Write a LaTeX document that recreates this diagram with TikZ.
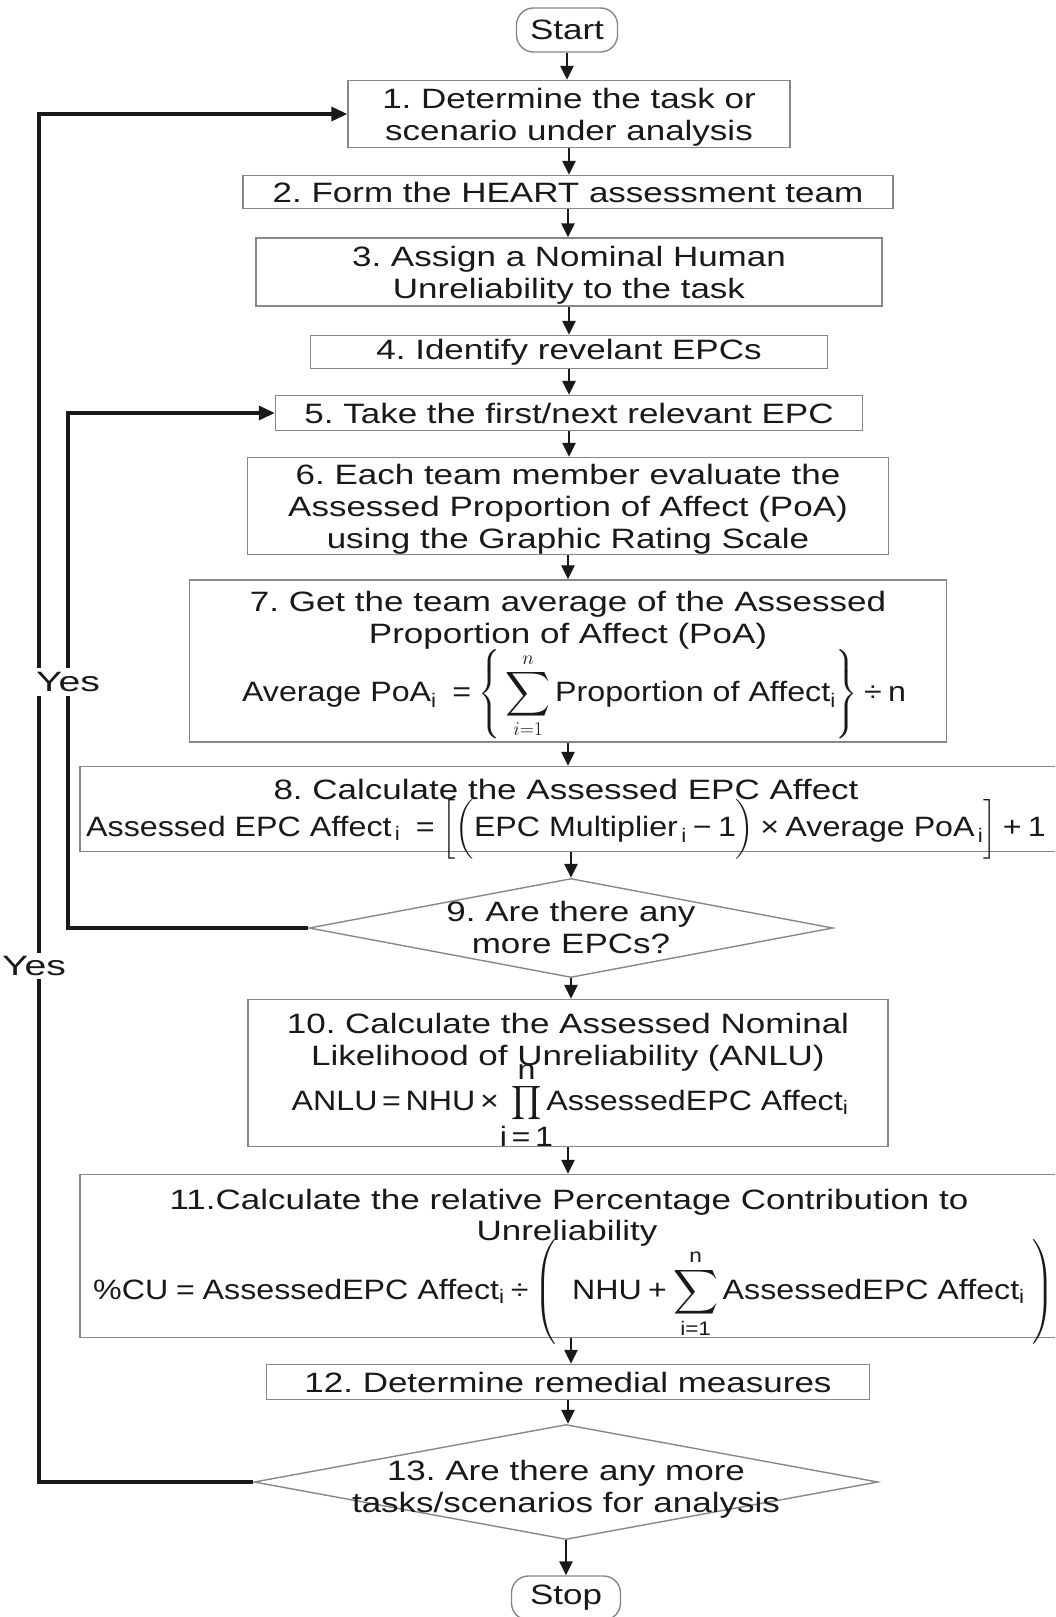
\RequirePackage{fix-cm}
\documentclass[tikz,border=0pt]{standalone}
\usepackage{amsmath}
\usepackage{graphicx}
\usepackage{fontspec}
\setmainfont{Liberation Sans}[FakeStretch=1.25]
\newfontfamily\formfont{Liberation Sans}[FakeStretch=1.15]
\newfontfamily\yesfont{Liberation Sans}[FakeStretch=1.4]
\usetikzlibrary{shapes.geometric,arrows.meta}
\definecolor{boxgray}{RGB}{135,135,135}
\definecolor{ink}{RGB}{25,25,25}
\newcommand\fEq{\mathrel{\text{=}}}
\newcommand\fTimes{\mathbin{\text{×}}}
\newcommand\fDiv{\mathbin{\text{÷}}}
\newcommand\fPlus{\mathbin{\text{+}}}
\newcommand\fMinus{\mathbin{\text{−}}}
\newcommand\bigsum{\mathop{\vcenter{\hbox{\scalebox{1.25}{$\displaystyle\sum$}}}}}
\newcommand\midprod{\mathop{\vcenter{\hbox{\scalebox{0.95}{$\displaystyle\prod$}}}}}
\newcommand\zw[1]{\hbox to 0pt{\hss$\textstyle #1$\hss}}
\tikzset{
  box/.style={draw=boxgray, line width=1.4pt, rectangle, align=center, inner sep=0pt,
              text=ink, font=\fontsize{28}{32}\selectfont\frenchspacing},
  term/.style={box, rounded corners=17pt},
  dec/.style={diamond, draw=boxgray, line width=1.4pt, inner sep=0pt},
  tline/.style={text=ink, inner sep=0pt, align=center, font=\fontsize{28}{32}\selectfont\frenchspacing},
  fline/.style={text=ink, inner sep=0pt, font=\fontsize{28}{32}\selectfont\formfont\frenchspacing},
  flow/.style={-{Triangle[length=14pt,width=13pt]}, line width=2.6pt, draw=ink},
  backloop/.style={-{Triangle[length=16pt,width=14pt]}, line width=3.4pt, draw=ink},
  lbl/.style={text=ink, font=\fontsize{28}{32}\selectfont\yesfont, inner sep=1pt}
}
\begin{document}
\begin{tikzpicture}[x=1pt,y=-1pt]
\useasboundingbox (0,0) rectangle (1055,1617);
\clip (0,0) rectangle (1055,1617);

\node[term, minimum width=101pt, minimum height=44pt] (start) at (567,30) {Start};

\node[box, minimum width=442pt, minimum height=67pt] (b1) at (569,114) {};
\node[tline] (t1) at (569,117) {1. Determine the task or\\scenario under analysis};

\node[box, minimum width=650pt, minimum height=33pt] (b2) at (568,192)
  {2. Form the HEART assessment team};

\node[box, minimum width=626pt, minimum height=68pt] (b3) at (569,272) {};
\node[tline] (t3) at (569,275) {3. Assign a Nominal Human\\Unreliability to the task};

\node[box, minimum width=517pt, minimum height=33pt] (b4) at (569,352)
  {4. Identify revelant EPCs};
\node[box, minimum width=587pt, minimum height=35pt] (b5) at (569,413)
  {5. Take the first/next relevant EPC};

\node[box, minimum width=641pt, minimum height=97pt] (b6) at (568,506) {};
\node[tline] (t6) at (568,509)
  {6. Each team member evaluate the\\Assessed Proportion of Affect (PoA)\\using the Graphic Rating Scale};

% box 7
\node[box, minimum width=757pt, minimum height=162pt] (b7) at (568,661) {};
\node[tline, anchor=base] (t7a) at (568,611) {7. Get the team average of the Assessed};
\node[tline, anchor=base] (t7b) at (568,643) {Proportion of Affect (PoA)};
\node[fline, anchor=base] (t7c) at (574,701)
  {$\displaystyle \text{Average PoA}_{\text{i}}\;\fEq\left\{\rule[-40pt]{0pt}{94pt}\bigsum_{i=1}^{n}\text{Proportion of Affect}_{\text{i}}\right\}\fDiv\text{n}$};

% box 8
\node[box, minimum width=982pt, minimum height=85pt] (b8) at (571,809) {};
\node[tline, anchor=base] (t8a) at (566,799) {8. Calculate the Assessed EPC Affect};
\node[fline, anchor=base west] (t8b) at (86,836)
  {$\text{Assessed EPC Affect}_{\,\text{i}}\;\fEq\Bigl[\Bigl(\text{EPC Multiplier}_{\,\text{i}}\fMinus\text{1}\Bigr)\fTimes\text{Average PoA}_{\,\text{i}}\Bigr]\fPlus\text{1}$};

% decision 9
\node[dec, minimum width=524pt, minimum height=99pt] (d9) at (571,928) {};
\node[tline] (t9) at (571,927) {9. Are there any\\more EPCs?};

% box 10
\node[box, minimum width=640pt, minimum height=147pt] (b10) at (568,1073) {};
\node[tline, anchor=base] (t10a) at (568,1033) {10. Calculate the Assessed Nominal};
\node[tline, anchor=base] (t10b) at (568,1065) {Likelihood of Unreliability (ANLU)};
\node[fline, anchor=base] (t10c) at (570,1110)
  {$\text{ANLU}\,\text{=}\,\text{NHU}\,\text{×}\;\midprod\limits_{\zw{\text{i}\,\text{=}\,\text{1}}}^{\zw{\text{n}}}\text{AssessedEPC Affect}_{\text{i}}$};

% box 11
\node[box, minimum width=982pt, minimum height=163pt] (b11) at (571,1256) {};
\node[tline, anchor=base] (t11a) at (569,1209) {11.Calculate the relative Percentage Contribution to};
\node[tline, anchor=base] (t11b) at (567,1240) {Unreliability};
\node[fline, anchor=base west] (t11c) at (93,1299)
  {$\displaystyle \text{\%CU}\fEq\text{AssessedEPC Affect}_{\text{i}}\fDiv\left(\rule[-42pt]{0pt}{98pt}\;\;\text{NHU}\fPlus\bigsum_{\text{i=1}}^{\text{n}}\text{AssessedEPC Affect}_{\text{i}}\;\right)$};

\node[box, minimum width=603pt, minimum height=35pt] (b12) at (568,1382)
  {12. Determine remedial measures};

% decision 13
\node[dec, minimum width=624pt, minimum height=115pt] (d13) at (566,1482) {};
\node[tline] (t13) at (566,1489) {13. Are there any more\\tasks/scenarios for analysis};

\node[term, minimum width=109pt, minimum height=44pt] (stop) at (566,1598) {Stop};

% main flow
\foreach \a/\b in {start/b1,b1/b2,b2/b3,b3/b4,b4/b5,b5/b6,b6/b7,b7/b8,b8/d9,d9/b10,b10/b11,b11/b12,b12/d13,d13/stop}
  \draw[flow] (\a.south) -- (\a.south |- \b.north);

% loops
\coordinate (c9) at (68,928);
\coordinate (c5) at (68,413);
\draw[backloop] (d9.west) -- (c9) -- (c5) -- (b5.west);
\coordinate (c13) at (39,1482);
\coordinate (c1) at (39,114);
\draw[backloop] (d13.west) -- (c13) -- (c1) -- (b1.west);

\node[lbl, fill=white, inner sep=3pt] (yes1) at (34,966) {Yes};
\node[lbl, fill=white, inner xsep=1pt, inner ysep=4pt] (yes2) at (68,682) {Yes};
\end{tikzpicture}
\end{document}
